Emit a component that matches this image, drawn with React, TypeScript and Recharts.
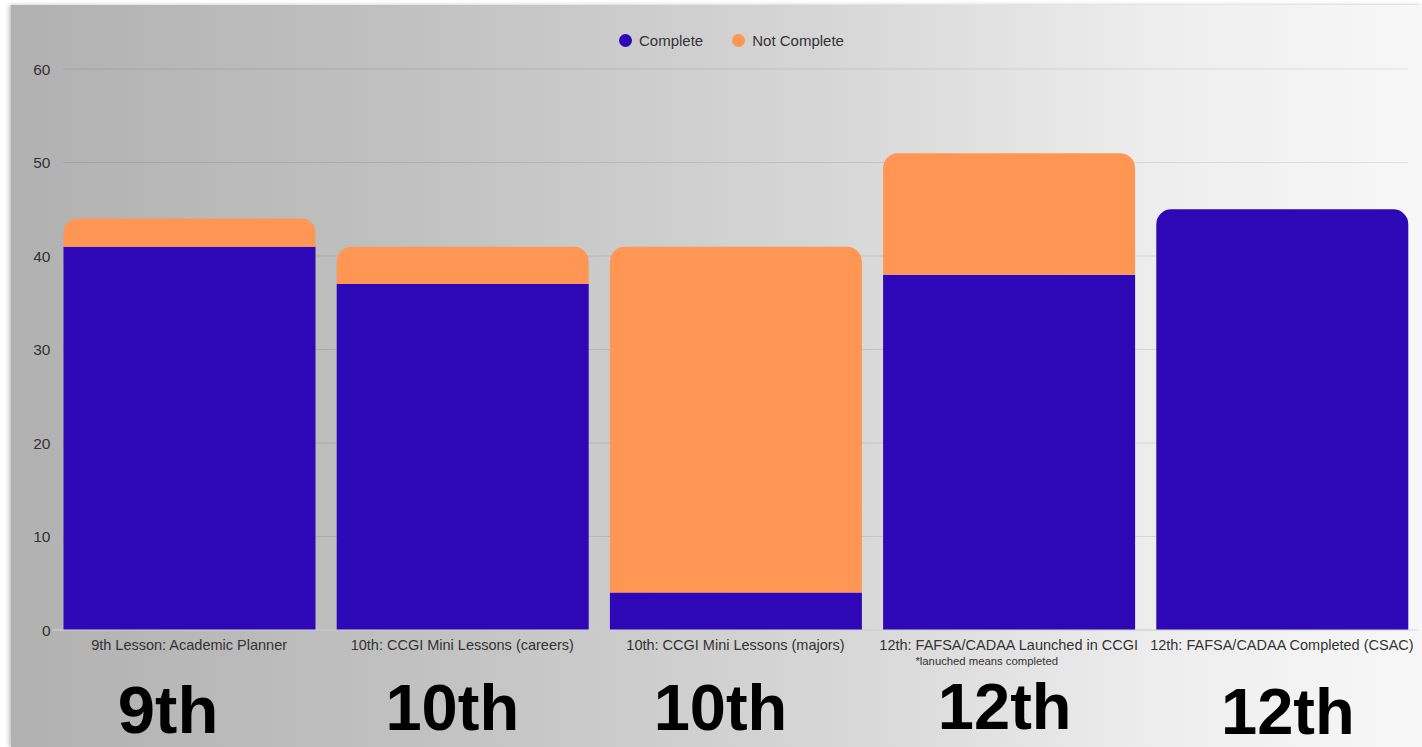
import React from "react";
import {
  Bar,
  BarChart,
  CartesianGrid,
  Legend,
  Rectangle,
  XAxis,
  YAxis,
} from "recharts";

const categories = [
  "9th Lesson: Academic Planner",
  "10th: CCGI Mini Lessons (careers)",
  "10th: CCGI Mini Lessons (majors)",
  "12th: FAFSA/CADAA Launched in CCGI",
  "12th: FAFSA/CADAA Completed (CSAC)",
];
const complete = [41, 37, 4, 38, 45];
const notComplete = [3, 4, 37, 13, 0];
const grades = ["9th", "10th", "10th", "12th", "12th"];
const notes = ["", "", "", "*lanuched means completed", ""];
const yTicks = [0, 10, 20, 30, 40, 50, 60];

// hand placed grade labels in the original, nudged off the band centre
const gradeNudge = [
  { dx: -21, dy: 103, size: 67 },
  { dx: -10, dy: 100, size: 65 },
  { dx: -15, dy: 100, size: 65 },
  { dx: -4, dy: 99, size: 65 },
  { dx: 6, dy: 104, size: 65 },
];

const data = categories.map((name, i) => ({
  name,
  complete: complete[i],
  notComplete: notComplete[i],
  grade: grades[i],
  note: notes[i],
}));

const FONT = '"Liberation Sans", Arial, sans-serif';
const BLUE = "#2e07b7";
const ORANGE = "#ff9654";

function CategoryTick(props) {
  const { x, y, index } = props;
  const row = data[index];
  const nudge = gradeNudge[index];
  return (
    <g>
      <text x={x} y={y + 20} textAnchor="middle" fontSize={14.5} fill="#333" fontFamily={FONT}>
        {row.name}
      </text>
      {row.note ? (
        <text x={x - 22} y={y + 35} textAnchor="middle" fontSize={11.3} fill="#333" fontFamily={FONT}>
          {row.note}
        </text>
      ) : null}
      <text
        x={x + nudge.dx}
        y={y + nudge.dy}
        textAnchor="middle"
        fontSize={nudge.size}
        fontWeight="bold"
        fill="#000"
        fontFamily={FONT}
      >
        {row.grade}
      </text>
    </g>
  );
}

function CompleteShape(props) {
  const top = props.payload && props.payload.notComplete === 0;
  return <Rectangle {...props} radius={top ? [15, 15, 0, 0] : 0} />;
}

function NotCompleteShape(props) {
  return <Rectangle {...props} radius={[15, 15, 0, 0]} />;
}

function GridLine(props) {
  const { x1, x2, y1, y2 } = props;
  return <line x1={x1 + 10.5} x2={x2 - 10.5} y1={y1} y2={y2} stroke="rgba(0,0,0,0.09)" strokeWidth={1.2} />;
}

function renderLegend(props) {
  const { payload } = props;
  return (
    <div style={{ display: "flex", alignItems: "center", fontFamily: FONT, fontSize: 15, color: "#333" }}>
      {payload.map((entry, i) => (
        <div key={entry.value} style={{ display: "flex", alignItems: "center", marginLeft: i === 0 ? 0 : 29 }}>
          <span
            style={{
              width: 13,
              height: 13,
              borderRadius: "50%",
              background: entry.color,
              display: "inline-block",
              marginRight: 7,
            }}
          />
          <span>{entry.value}</span>
        </div>
      ))}
    </div>
  );
}

export default function App() {
  return (
    <div style={{ position: "fixed", left: 0, top: 0, width: 1422, height: 747, background: "#fff" }}>
      <div
        style={{
          position: "absolute",
          left: 11,
          top: 5,
          width: 1411,
          height: 742,
          background:
            "linear-gradient(to right, #b1b1b1 0%, #c2c2c2 30%, #d8d8d8 60%, #eeeeee 82%, #f7f7f7 100%)",
          boxShadow: "-2px 0 4px rgba(0,0,0,0.25)",
        }}
      />
      <div style={{ position: "absolute", left: 0, top: 0 }}>
        <BarChart
          width={1422}
          height={747}
          data={data}
          margin={{ top: 69, right: 3.5, bottom: 0, left: 0 }}
        >
          <CartesianGrid vertical={false} horizontal={GridLine} />
          <XAxis
            dataKey="name"
            height={117}
            interval={0}
            tickLine={false}
            tickSize={0}
            tickMargin={0}
            axisLine={{ stroke: "#d6d6d6" }}
            tick={CategoryTick}
          />
          <YAxis
            width={52.5}
            domain={[0, 60]}
            ticks={yTicks}
            axisLine={false}
            tickLine={false}
            tickSize={0}
            tickMargin={2}
            tick={{ fontSize: 15.5, fill: "#333", fontFamily: FONT }}
          />
          <Legend
            verticalAlign="middle"
            align="center"
            content={renderLegend}
            wrapperStyle={{ top: 32, left: 619, width: 260, height: 18 }}
          />
          <Bar
            dataKey="complete"
            name="Complete"
            stackId="a"
            fill={BLUE}
            barSize={252}
            shape={CompleteShape}
            isAnimationActive={false}
          />
          <Bar
            dataKey="notComplete"
            name="Not Complete"
            stackId="a"
            fill={ORANGE}
            barSize={252}
            shape={NotCompleteShape}
            isAnimationActive={false}
          />
        </BarChart>
      </div>
    </div>
  );
}
